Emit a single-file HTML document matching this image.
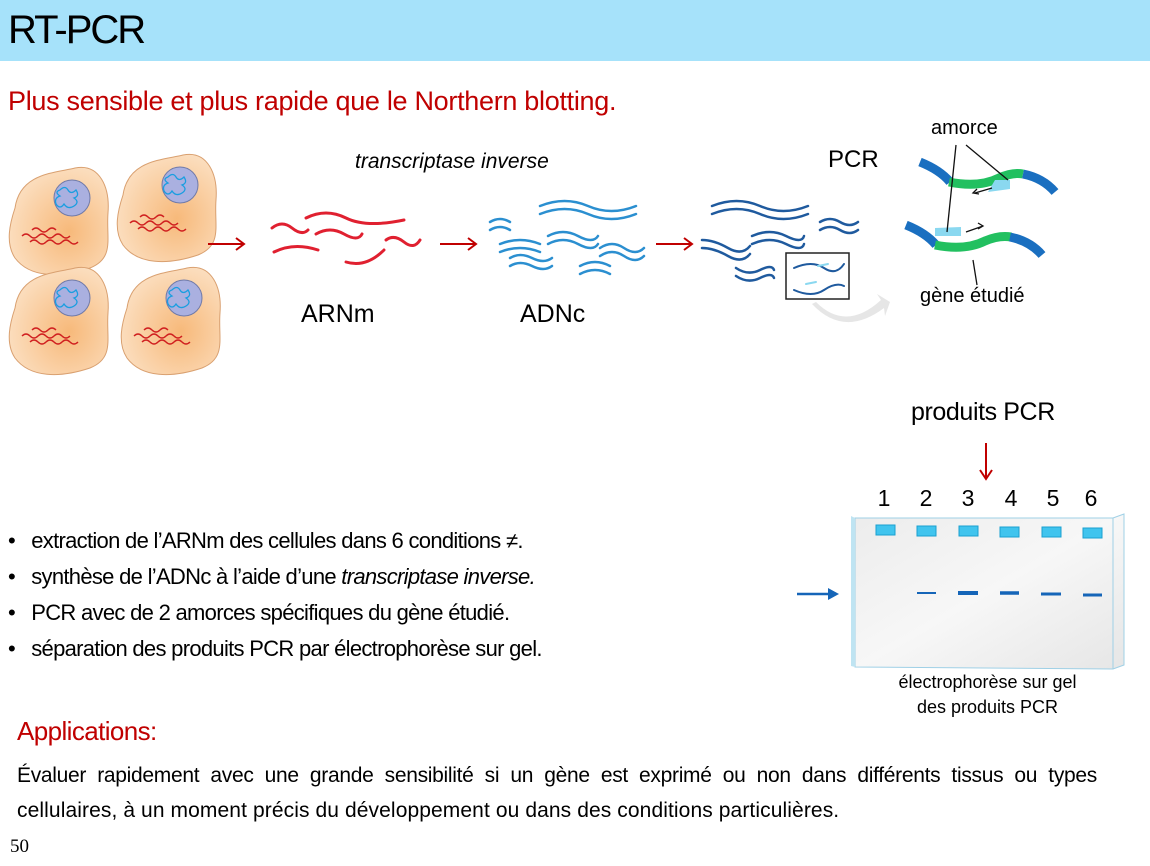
<!DOCTYPE html>
<html><head><meta charset="utf-8"><style>
body{margin:0;width:1150px;height:866px;background:#fff;font-family:"Liberation Sans",sans-serif;position:relative;overflow:hidden}
.t{position:absolute;white-space:nowrap}
</style></head><body>
<div style="position:absolute;left:0;top:0;width:1150px;height:61px;background:#a6e2fa"></div>
<div class="t" style="left:8px;top:8px;font-size:40px;letter-spacing:-2px">RT-PCR</div>
<div class="t" style="left:8px;top:86px;font-size:27px;color:#c00000;letter-spacing:-0.3px">Plus sensible et plus rapide que le Northern blotting.</div>
<svg style="position:absolute;left:0;top:0" width="1150" height="866">
<defs>
<radialGradient id="cg" cx="0.6" cy="0.6" r="0.7"><stop offset="0" stop-color="#f7b97a"/><stop offset="1" stop-color="#fce3c8"/></radialGradient>
<linearGradient id="gel" x1="0" y1="0" x2="1" y2="1"><stop offset="0" stop-color="#ececec"/><stop offset="0.5" stop-color="#f7f7f7"/><stop offset="1" stop-color="#e6e6e6"/></linearGradient>
<g id="cell">
<path d="M-45,-10 C-40,-45 -5,-45 15,-50 C40,-55 50,-30 48,-5 C46,20 55,40 30,50 C0,60 -30,60 -45,40 C-55,25 -50,5 -45,-10Z" fill="url(#cg)" stroke="#d9a070" stroke-width="1"/>
<circle cx="12" cy="-20" r="18" fill="#aab0e0" stroke="#707aa8"/>
<path d="M0,-28 q5,-5 8,0 t8,0 q4,6 -2,8 q6,4 0,8 q-6,4 -10,-2 q-4,6 -8,0 q-2,-6 4,-8 q-6,-4 0,-6" fill="none" stroke="#1a9ee0" stroke-width="1.3"/>
<g fill="none" stroke="#d02020" stroke-width="1.4">
<path d="M-28,12 q4,-4 8,0 t8,0 t8,0"/><path d="M-38,18 q4,-4 8,0 t8,0 t8,0 t8,0 t8,0 t8,0"/><path d="M-30,24 q4,-4 8,0 t8,0 t8,0 t8,0 t8,0 t8,0"/></g>
</g>
</defs>
<use href="#cell" x="60" y="218"/>
<use href="#cell" x="168" y="205"/>
<use href="#cell" x="60" y="318"/>
<use href="#cell" x="172" y="318"/>
<g stroke="#c00000" stroke-width="2" fill="none">
<path d="M208,244 H243 M236,238 L244,244 L236,250"/>
<path d="M440,244 H475 M468,238 L476,244 L468,250"/>
<path d="M656,244 H691 M684,238 L692,244 L684,250"/>
</g>
<g fill="none" stroke="#e02030" stroke-width="3" stroke-linecap="round">
<path d="M272,228 q10,-8 20,0 t16,2"/><path d="M306,218 q20,-10 40,0 t58,2"/><path d="M316,234 q14,-8 28,0 t18,0"/>
<path d="M274,252 q20,-10 44,-2"/><path d="M346,262 q20,6 38,-12"/><path d="M386,240 q8,-6 18,2 t16,-2"/>
</g>
<g fill="none" stroke="#2b8fd0" stroke-width="2.5" stroke-linecap="round">
<path d="M490,222 q10,-6 20,0 M490,230 q10,-6 20,0"/>
<path d="M540,206 q25,-10 48,0 t48,0 M540,214 q25,-10 48,0 t48,0"/>
<path d="M500,244 q20,-8 40,0 M500,252 q20,-8 40,0"/>
<path d="M548,236 q15,-8 30,0 t20,0 M548,244 q15,-8 30,0 t20,0"/>
<path d="M600,248 q12,-8 24,0 t20,0 M600,256 q12,-8 24,0 t20,0"/>
<path d="M510,258 q10,-6 22,0 t20,0 M510,266 q10,-6 22,0 t20,0"/>
<path d="M580,266 q15,-8 30,0 M580,274 q15,-8 30,0"/>
</g>
<g fill="none" stroke="#1f5a9e" stroke-width="2.5" stroke-linecap="round">
<path d="M712,206 q25,-10 48,0 t48,0 M712,214 q25,-10 48,0 t48,0"/>
<path d="M820,222 q10,-6 20,0 t18,0 M820,230 q10,-6 20,0 t18,0"/>
<path d="M702,240 q12,0 26,8 t22,-2 M702,248 q12,0 26,8 t22,-2"/>
<path d="M752,236 q18,-8 34,0 t18,0 M752,244 q18,-8 34,0 t18,0"/>
<path d="M736,268 q12,8 24,2 t14,0 M736,276 q12,8 24,2 t14,0"/>
</g>
<rect x="786" y="253" width="63" height="46" fill="#fff" stroke="#222" stroke-width="1.5"/>
<g fill="none" stroke-width="2" stroke-linecap="round">
<path d="M794,268 q18,-8 30,0 t20,-4" stroke="#1f5a9e"/><path d="M794,290 q18,8 30,0 t20,-4" stroke="#1f5a9e"/>
<path d="M818,266 l10,-2" stroke="#8ad8f0"/><path d="M806,284 l10,-2" stroke="#8ad8f0"/>
</g>
<path d="M816,302 q30,30 65,-2 l-4,-6 l13,8 l-5,14 l-1,-8 q-40,30 -72,-4z" fill="#e6e6e6"/>
<g fill="none" stroke-width="9">
<path d="M920,162 q20,8 30,20" stroke="#1a6fc0"/><path d="M949,182 q30,6 50,-4 q14,-6 24,-4" stroke="#22c060"/><path d="M1023,174 q20,4 32,18" stroke="#1a6fc0"/>
<path d="M906,225 q20,8 30,20" stroke="#1a6fc0"/><path d="M935,245 q30,6 50,-4 q14,-6 26,-4" stroke="#22c060"/><path d="M1010,237 q20,4 32,18" stroke="#1a6fc0"/>
</g>
<path d="M995,180 l15,0 l0,9 l-22,3z" fill="#8ad8f0"/>
<path d="M935,228 l26,-1 l0,9 l-26,0z" fill="#8ad8f0"/>
<g stroke="#111" stroke-width="1.3" fill="none">
<path d="M956,145 L947,232 M966,145 L1008,180 M973,260 L977,285"/>
<path d="M992,188 L975,193 M977,189 l-4,4 l6,1"/>
<path d="M966,232 L983,226 M978,223 l5,3 l-5,3"/>
</g>
<path d="M986,443 V478 M980,470 L986,479 L992,470" stroke="#c00000" stroke-width="2" fill="none"/>
<path d="M855,518 L1113,518 L1124,514 L1124,665 L1113,669 L855,667Z" fill="url(#gel)" stroke="#9fd0e6"/>
<path d="M1113,518 L1113,669" stroke="#9fd0e6"/>
<path d="M851,516 L855,518 L855,667 L851,666Z" fill="#bfe4f2"/>
<g fill="#40c4ee" stroke="#1aa0d0">
<rect x="876" y="525" width="19" height="10"/><rect x="917" y="526" width="19" height="10"/><rect x="959" y="526" width="19" height="10"/><rect x="1000" y="527" width="19" height="10"/><rect x="1042" y="527" width="19" height="10"/><rect x="1083" y="528" width="19" height="10"/>
</g>
<g stroke="#1565b8">
<path d="M917,593 H936" stroke-width="2"/><path d="M958,593 H978" stroke-width="4"/><path d="M1000,593 H1019" stroke-width="3.5"/><path d="M1041,594 H1061" stroke-width="3"/><path d="M1083,595 H1102" stroke-width="3"/>
</g>
<path d="M797,594 H830" stroke="#1565b8" stroke-width="2.5"/><path d="M828,588 L839,594 L828,600Z" fill="#1565b8"/>
<g font-family="Liberation Sans, sans-serif" font-size="23" text-anchor="middle">
<text x="884" y="506">1</text><text x="926" y="506">2</text><text x="968" y="506">3</text><text x="1011" y="506">4</text><text x="1053" y="506">5</text><text x="1091" y="506">6</text>
</g>
</svg>
<div class="t" style="left:355px;top:150px;font-size:21px;font-style:italic">transcriptase inverse</div>
<div class="t" style="left:828px;top:146px;font-size:24px">PCR</div>
<div class="t" style="left:931px;top:117px;font-size:20px">amorce</div>
<div class="t" style="left:920px;top:285px;font-size:20px">gène étudié</div>
<div class="t" style="left:301px;top:300px;font-size:25px">ARNm</div>
<div class="t" style="left:520px;top:300px;font-size:25px">ADNc</div>
<div class="t" style="left:911px;top:398px;font-size:25px;letter-spacing:-0.4px">produits PCR</div>
<div class="t" style="left:880px;top:670px;width:215px;text-align:center;font-size:18px;line-height:25px">électrophorèse sur gel<br>des produits PCR</div>
<div style="position:absolute;left:8px;top:523px;font-size:22px;line-height:36px;letter-spacing:-0.7px;white-space:nowrap">
<div>•&nbsp;&nbsp; extraction de l’ARNm des cellules dans 6 conditions ≠.</div>
<div>•&nbsp;&nbsp; synthèse de l’ADNc à l’aide d’une <i>transcriptase inverse.</i></div>
<div>•&nbsp;&nbsp; PCR avec de 2 amorces spécifiques du gène étudié.</div>
<div>•&nbsp;&nbsp; séparation des produits PCR par électrophorèse sur gel.</div>
</div>
<div class="t" style="left:17px;top:716px;font-size:26px;color:#c00000;letter-spacing:-0.6px">Applications:</div>
<div style="position:absolute;left:17px;top:758px;width:1080px;font-size:21px;line-height:35px;letter-spacing:-0.3px;white-space:nowrap;text-align:justify;text-align-last:justify">Évaluer rapidement avec une grande sensibilité si un gène est exprimé ou non dans différents tissus ou types</div>
<div class="t" style="left:17px;top:793px;font-size:21px;line-height:35px;letter-spacing:0.1px">cellulaires, à un moment précis du développement ou dans des conditions particulières.</div>
<div class="t" style="left:10px;top:836px;font-size:19px;font-family:'Liberation Serif',serif">50</div>
</body></html>
